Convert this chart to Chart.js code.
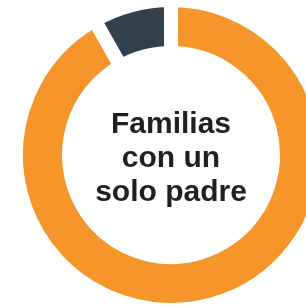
<!DOCTYPE html>
<html lang="es">
<head>
    <meta charset="UTF-8">
    <title>Familias con un solo padre</title>
    <script src="https://cdn.jsdelivr.net/npm/chart.js"></script>
    <style>
        html, body {
            margin: 0;
            padding: 0;
            background: #fff;
            overflow: hidden;
        }
        #wrap {
            position: absolute;
            left: 0;
            top: -7px;
            width: 342px;
            height: 324px;
        }
    </style>
</head>
<body>
    <div id="wrap">
        <canvas id="donut" width="342" height="324"></canvas>
    </div>

    <script>
        // valores (porcentaje)
        const categories = ["Otras familias", "Familias con un solo padre"];
        const values = [91.8, 8.2];
        const colors = ["#F6962A", "#33414D"];
        const centerLines = ["Familias", "con un", "solo padre"];

        // texto en el centro del anillo
        const centerText = {
            id: "centerText",
            afterDraw(chart) {
                const arc = chart.getDatasetMeta(0).data[0];
                const ctx = chart.ctx;
                ctx.save();
                ctx.font = "bold 30px 'Liberation Sans', Arial, sans-serif";
                ctx.fillStyle = "#231F20";
                ctx.textAlign = "center";
                ctx.textBaseline = "alphabetic";
                const lineH = 34;
                centerLines.forEach((line, i) => {
                    ctx.fillText(line, arc.x, arc.y - 22.5 + i * lineH);
                });
                ctx.restore();
            }
        };

        new Chart(document.getElementById("donut"), {
            type: "doughnut",
            data: {
                labels: categories,
                datasets: [{
                    data: values,
                    backgroundColor: colors,
                    borderColor: "#ffffff",
                    borderWidth: 14,
                    borderAlign: "center",
                    borderJoinStyle: "miter",
                    hoverBorderWidth: 14
                }]
            },
            options: {
                responsive: false,
                animation: false,
                cutout: "65.8%",
                layout: { padding: 0 },
                plugins: {
                    legend: { display: false },
                    tooltip: { enabled: false }
                }
            },
            plugins: [centerText]
        });
    </script>
</body>
</html>
